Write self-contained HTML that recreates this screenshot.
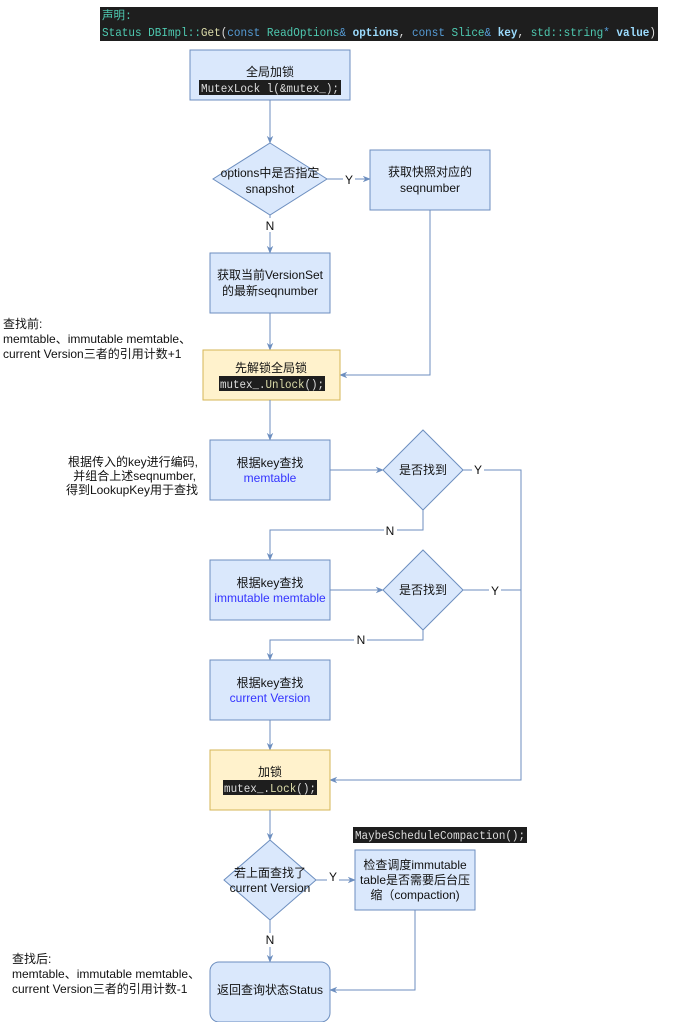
<!DOCTYPE html>
<html><head><meta charset="utf-8"><style>
html,body{margin:0;padding:0;background:#fff;width:681px;height:1022px;overflow:hidden}
svg{display:block}
text{font-family:"Liberation Sans","Noto Sans CJK SC",sans-serif;font-size:12px;fill:#111}
.m{font-family:"Liberation Mono","Noto Sans CJK SC",monospace;font-size:11.5px}
.b{fill:#dae8fc;stroke:#6c8ebf;stroke-width:1}
.y{fill:#fff2cc;stroke:#d6b656;stroke-width:1}
.l{fill:none;stroke:#6c8ebf;stroke-width:1}
</style></head><body>
<svg width="681" height="1022" viewBox="0 0 681 1022">
<defs><marker id="a" viewBox="0 0 10 10" refX="9" refY="5" markerWidth="8" markerHeight="8" orient="auto"><path d="M0,1 L10,5 L0,9 L3,5 z" fill="#6c8ebf"/></marker></defs>
<rect x="100" y="7" width="558" height="34" fill="#1e1e1e"/>
<text x="102" y="19" class="m" style="fill:#4ec9b0">声明:</text>
<text x="102" y="36" class="m" textLength="554" lengthAdjust="spacingAndGlyphs" style="fill:#4ec9b0;font-size:12px">Status DBImpl::<tspan style="fill:#dcdcaa">Get</tspan><tspan style="fill:#ddd">(</tspan><tspan style="fill:#569cd6">const</tspan> ReadOptions<tspan style="fill:#569cd6">&amp;</tspan> <tspan style="fill:#9cdcfe;font-weight:bold">options</tspan><tspan style="fill:#ddd">,</tspan> <tspan style="fill:#569cd6">const</tspan> Slice<tspan style="fill:#569cd6">&amp;</tspan> <tspan style="fill:#9cdcfe;font-weight:bold">key</tspan><tspan style="fill:#ddd">,</tspan> std::string<tspan style="fill:#569cd6">*</tspan> <tspan style="fill:#9cdcfe;font-weight:bold">value</tspan><tspan style="fill:#ddd">)</tspan></text>

<rect x="190" y="50" width="160" height="50" class="b"/>
<text x="270" y="76" text-anchor="middle">全局加锁</text>
<rect x="199" y="80" width="142" height="15" fill="#1e1e1e"/>
<text x="201" y="92" class="m" textLength="138" lengthAdjust="spacingAndGlyphs" style="fill:#ddd">MutexLock l(&amp;mutex_);</text>
<path d="M270,100 V143" class="l" marker-end="url(#a)"/>

<path d="M270,143 L327,179 L270,215 L213,179 Z" class="b"/>
<text x="270" y="177" text-anchor="middle">options中是否指定</text>
<text x="270" y="193" text-anchor="middle">snapshot</text>
<path d="M327,179 H370" class="l" marker-end="url(#a)"/>
<rect x="343" y="172" width="12" height="14" fill="#fff"/><text x="349" y="184" text-anchor="middle">Y</text>
<rect x="370" y="150" width="120" height="60" class="b"/>
<text x="430" y="176" text-anchor="middle">获取快照对应的</text>
<text x="430" y="192" text-anchor="middle">seqnumber</text>
<path d="M430,210 V375 H340" class="l" marker-end="url(#a)"/>
<path d="M270,215 V253" class="l" marker-end="url(#a)"/>
<rect x="263" y="218" width="14" height="14" fill="#fff"/><text x="270" y="230" text-anchor="middle">N</text>

<rect x="210" y="253" width="120" height="60" class="b"/>
<text x="270" y="279" text-anchor="middle">获取当前VersionSet</text>
<text x="270" y="295" text-anchor="middle">的最新seqnumber</text>
<path d="M270,313 V350" class="l" marker-end="url(#a)"/>

<text x="3" y="328">查找前:</text>
<text x="3" y="343">memtable、immutable memtable、</text>
<text x="3" y="358">current Version三者的引用计数+1</text>

<rect x="203" y="350" width="137" height="50" class="y"/>
<text x="271" y="372" text-anchor="middle">先解锁全局锁</text>
<rect x="219" y="376" width="106" height="15" fill="#1e1e1e"/>
<text x="220" y="388" class="m" textLength="104" lengthAdjust="spacingAndGlyphs" style="fill:#ddd">mutex_.<tspan style="fill:#dcdcaa">Unlock</tspan>();</text>
<path d="M270,400 V440" class="l" marker-end="url(#a)"/>

<text x="198" y="466" text-anchor="end">根据传入的key进行编码,</text>
<text x="196" y="480" text-anchor="end">并组合上述seqnumber,</text>
<text x="198" y="494" text-anchor="end">得到LookupKey用于查找</text>

<rect x="210" y="440" width="120" height="60" class="b"/>
<text x="270" y="467" text-anchor="middle">根据key查找</text>
<text x="270" y="482" text-anchor="middle" style="fill:#3333ff">memtable</text>
<path d="M330,470 H383" class="l" marker-end="url(#a)"/>
<path d="M423,430 L463,470 L423,510 L383,470 Z" class="b"/>
<text x="423" y="474" text-anchor="middle">是否找到</text>
<path d="M463,470 H521 V780 H330" class="l" marker-end="url(#a)"/>
<rect x="472" y="463" width="12" height="14" fill="#fff"/><text x="478" y="474" text-anchor="middle">Y</text>
<path d="M423,510 V530 H270 V560" class="l" marker-end="url(#a)"/>
<rect x="384" y="523" width="13" height="14" fill="#fff"/><text x="390" y="535" text-anchor="middle">N</text>

<rect x="210" y="560" width="120" height="60" class="b"/>
<text x="270" y="587" text-anchor="middle">根据key查找</text>
<text x="270" y="602" text-anchor="middle" style="fill:#3333ff">immutable memtable</text>
<path d="M330,590 H383" class="l" marker-end="url(#a)"/>
<path d="M423,550 L463,590 L423,630 L383,590 Z" class="b"/>
<text x="423" y="594" text-anchor="middle">是否找到</text>
<path d="M463,590 H521" class="l"/>
<rect x="489" y="583" width="12" height="14" fill="#fff"/><text x="495" y="595" text-anchor="middle">Y</text>
<path d="M423,630 V640 H270 V660" class="l" marker-end="url(#a)"/>
<rect x="354" y="633" width="13" height="14" fill="#fff"/><text x="361" y="644" text-anchor="middle">N</text>

<rect x="210" y="660" width="120" height="60" class="b"/>
<text x="270" y="687" text-anchor="middle">根据key查找</text>
<text x="270" y="702" text-anchor="middle" style="fill:#3333ff">current Version</text>
<path d="M270,720 V750" class="l" marker-end="url(#a)"/>

<rect x="210" y="750" width="120" height="60" class="y"/>
<text x="270" y="776" text-anchor="middle">加锁</text>
<rect x="223" y="780" width="94" height="15" fill="#1e1e1e"/>
<text x="224" y="792" class="m" textLength="92" lengthAdjust="spacingAndGlyphs" style="fill:#ddd">mutex_.<tspan style="fill:#dcdcaa">Lock</tspan>();</text>
<path d="M270,810 V840" class="l" marker-end="url(#a)"/>

<path d="M270,840 L316,880 L270,920 L224,880 Z" class="b"/>
<text x="270" y="877" text-anchor="middle">若上面查找了</text>
<text x="270" y="892" text-anchor="middle">current Version</text>
<path d="M316,880 H355" class="l" marker-end="url(#a)"/>
<rect x="327" y="869" width="12" height="14" fill="#fff"/><text x="333" y="881" text-anchor="middle">Y</text>
<rect x="353" y="827" width="174" height="16" fill="#1e1e1e"/>
<text x="355" y="839" class="m" textLength="170" lengthAdjust="spacingAndGlyphs" style="fill:#ddd">MaybeScheduleCompaction();</text>
<rect x="355" y="850" width="120" height="60" class="b"/>
<text x="415" y="869" text-anchor="middle">检查调度immutable</text>
<text x="415" y="884" text-anchor="middle">table是否需要后台压</text>
<text x="415" y="899" text-anchor="middle">缩（compaction)</text>
<path d="M415,910 V990 H330" class="l" marker-end="url(#a)"/>
<path d="M270,920 V962" class="l" marker-end="url(#a)"/>
<rect x="263" y="933" width="14" height="14" fill="#fff"/><text x="270" y="944" text-anchor="middle">N</text>

<text x="12" y="963">查找后:</text>
<text x="12" y="978">memtable、immutable memtable、</text>
<text x="12" y="993">current Version三者的引用计数-1</text>

<rect x="210" y="962" width="120" height="60" rx="9" class="b"/>
<text x="270" y="994" text-anchor="middle">返回查询状态Status</text>
</svg>
</body></html>
